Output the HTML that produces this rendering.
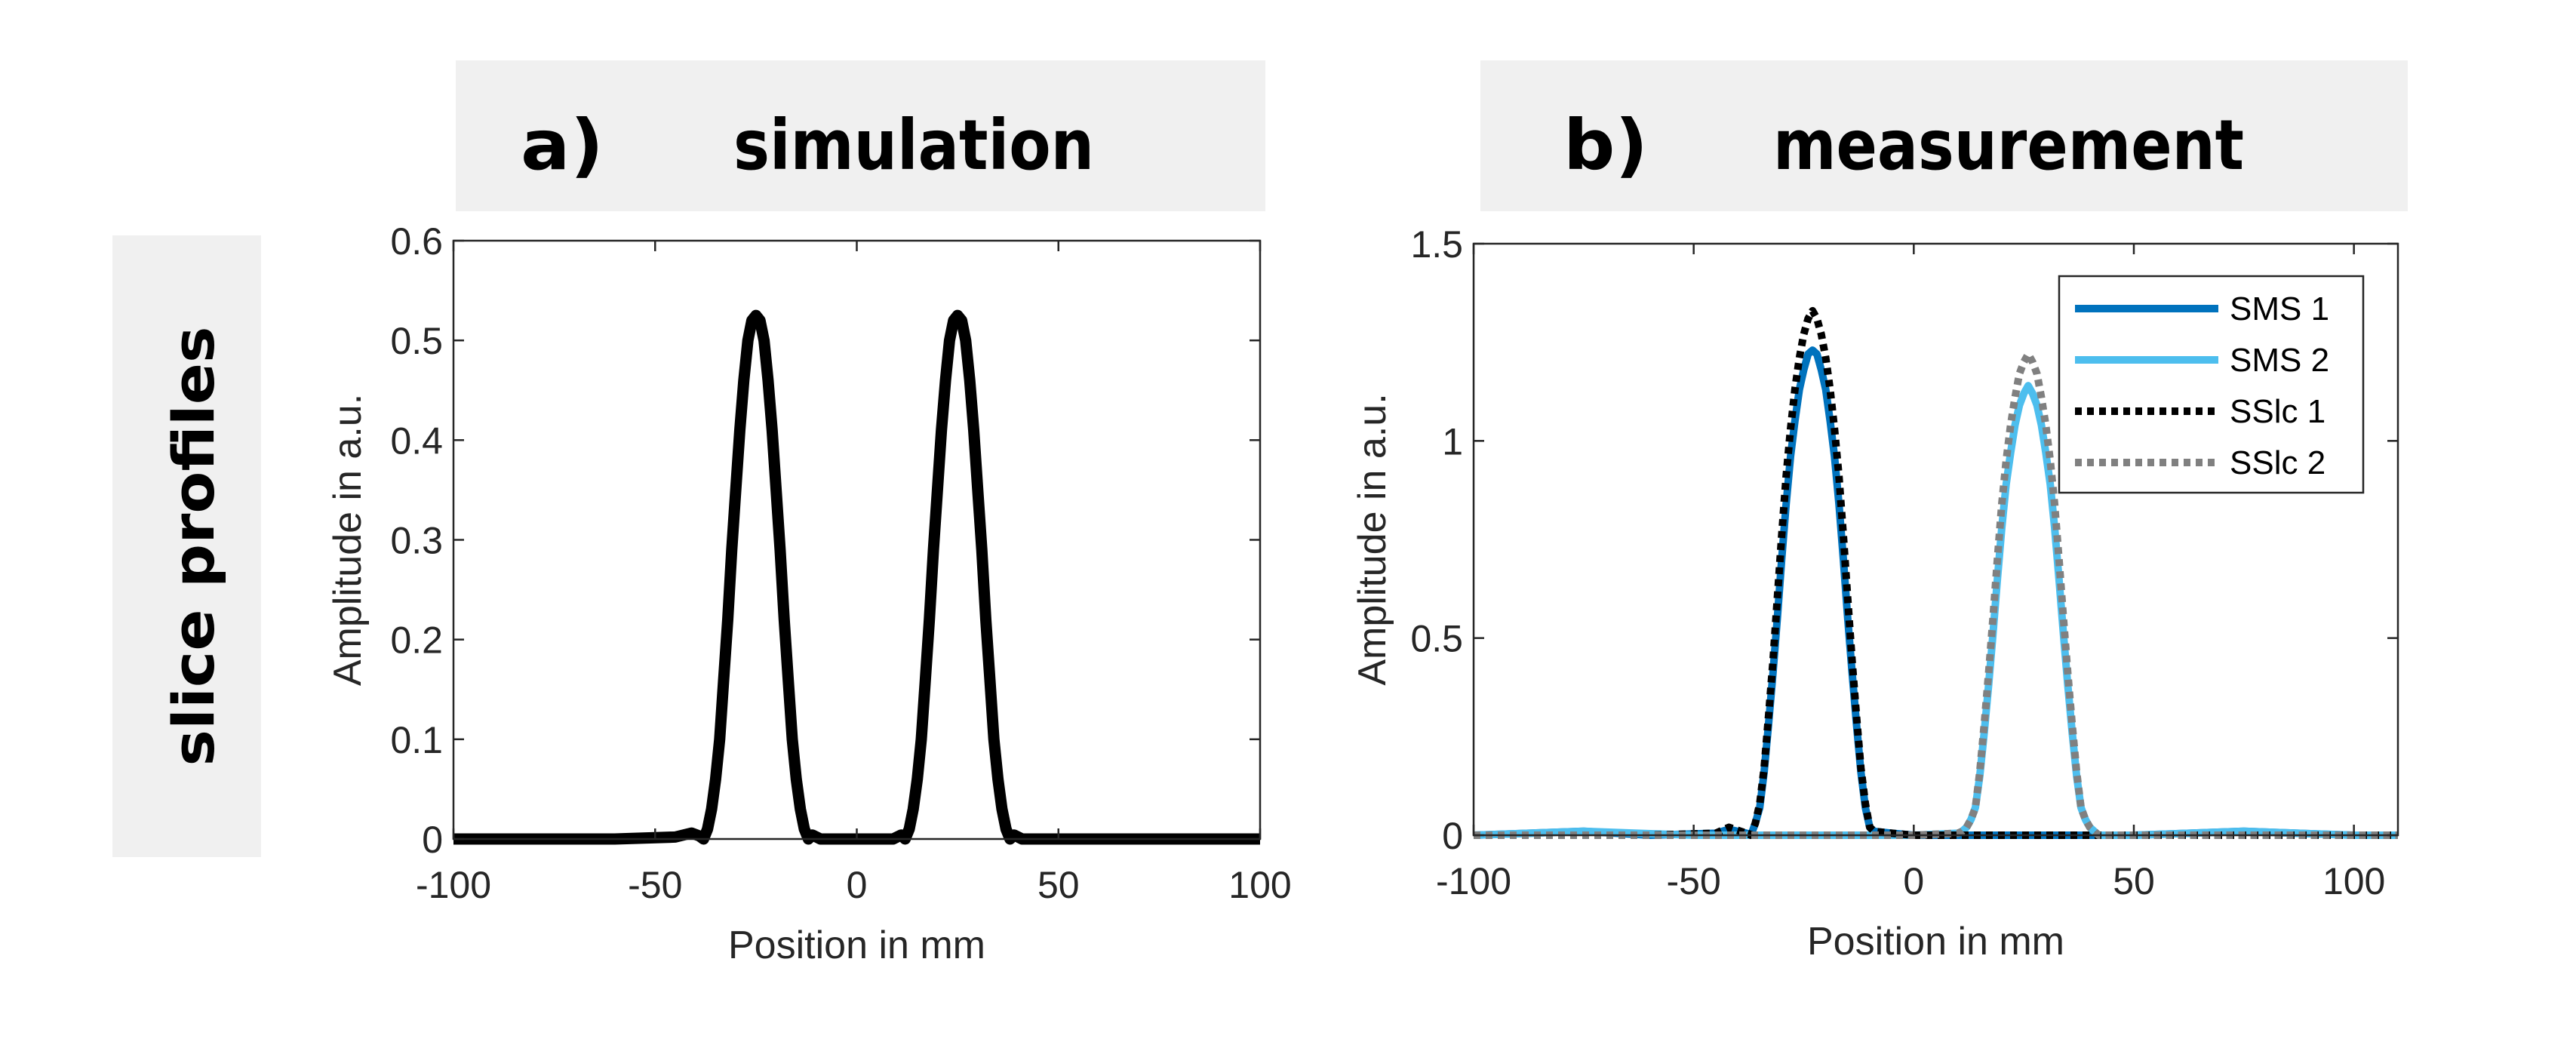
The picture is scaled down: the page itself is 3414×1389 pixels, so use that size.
<!DOCTYPE html>
<html><head><meta charset="utf-8"><style>
html,body{margin:0;padding:0;background:#fff;}
svg{display:block;font-family:"Liberation Sans",Arial,sans-serif;}
.ttl{font-family:"DejaVu Sans","Liberation Sans",sans-serif;font-weight:bold;}
</style></head><body>
<svg id="fig" width="3414" height="1389" viewBox="0 0 3414 1389" xmlns="http://www.w3.org/2000/svg">
<rect x="604" y="80" width="1073" height="200" fill="#f0f0f0"/>
<rect x="1962" y="80" width="1229" height="200" fill="#f0f0f0"/>
<rect x="149" y="312" width="197" height="824" fill="#f0f0f0"/>
<text class="ttl" x="690" y="224" font-size="92" textLength="110" lengthAdjust="spacingAndGlyphs">a)</text>
<text class="ttl" x="972" y="224" font-size="92" textLength="478" lengthAdjust="spacingAndGlyphs">simulation</text>
<text class="ttl" x="2072" y="224" font-size="92" textLength="112" lengthAdjust="spacingAndGlyphs">b)</text>
<text class="ttl" x="2350" y="224" font-size="92" textLength="624" lengthAdjust="spacingAndGlyphs">measurement</text>
<text class="ttl" transform="translate(283,724) rotate(-90)" font-size="76" text-anchor="middle" textLength="583" lengthAdjust="spacingAndGlyphs">slice profiles</text>
<g id="plots"></g>
</svg>
<script>
const simX = [-100,-60,-45,-41,-39,-38,-37,-36,-35,-34,-33,-32,-31,-30,-29,-28,-27,-26,-25,-24,-23,-22,-21,-20,-19,-18,-17,-16,-15,-14,-13,-12,-11,-9,-5,0,5,9,11,12,13,14,15,16,17,18,19,20,21,22,23,24,25,26,27,28,29,30,31,32,33,34,35,36,37,38,39,41,45,60,100];
const simY = [0,0,0.002,0.006,0.003,0.0,0.01,0.03,0.06,0.10,0.16,0.22,0.29,0.35,0.41,0.46,0.50,0.52,0.525,0.52,0.50,0.46,0.41,0.35,0.29,0.22,0.16,0.10,0.06,0.03,0.01,0.0,0.004,0.0,0.0,0.0,0.0,0.0,0.004,0.0,0.01,0.03,0.06,0.10,0.16,0.22,0.29,0.35,0.41,0.46,0.50,0.52,0.525,0.52,0.50,0.46,0.41,0.35,0.29,0.22,0.16,0.10,0.06,0.03,0.01,0.0,0.004,0.0,0.0,0,0];
const simXTicks = [-100,-50,0,50,100];
const simYTicks = [0,0.1,0.2,0.3,0.4,0.5,0.6];

const sms1X = [-100,-75,-60,-45,-42,-38,-37,-36,-35,-34,-33,-32,-31,-30,-29,-28,-27,-26,-25,-24,-23,-22,-21,-20,-19,-18,-17,-16,-15,-14,-13,-12,-11,-10,-9,-5,0,10,20,30,40,50,75,100,110];
const sms1Y = [0,0.01,0,0.005,0.015,0.005,0.0,0.03,0.07,0.16,0.28,0.41,0.55,0.70,0.84,0.96,1.05,1.13,1.18,1.22,1.23,1.22,1.18,1.13,1.05,0.96,0.84,0.70,0.55,0.41,0.28,0.16,0.07,0.02,0.01,0.005,0,0,0,0,0,0,0.01,0,0];
const sslc1X = [-100,-75,-60,-45,-42,-38,-37,-36,-35,-34,-33,-32,-31,-30,-29,-28,-27,-26,-25,-24,-23,-22,-21,-20,-19,-18,-17,-16,-15,-14,-13,-12,-11,-10,-9,-5,0,10,20,30,40,50,75,100,110];
const sslc1Y = [0,0,0,0.005,0.02,0.005,0.0,0.03,0.08,0.17,0.30,0.44,0.60,0.76,0.91,1.03,1.13,1.21,1.27,1.31,1.33,1.31,1.27,1.21,1.13,1.03,0.91,0.76,0.60,0.44,0.30,0.17,0.08,0.02,0.01,0.005,0,0,0,0,0,0,0,0,0];
const sms2X = [-100,-75,-50,-20,0,10,11,12,13,14,15,16,17,18,19,20,21,22,23,24,25,26,27,28,29,30,31,32,33,34,35,36,37,38,39,40,42,50,75,100,110];
const sms2Y = [0,0.01,0,0,0,0.005,0.01,0.02,0.04,0.07,0.15,0.26,0.38,0.51,0.65,0.78,0.89,0.97,1.04,1.09,1.12,1.14,1.12,1.09,1.04,0.97,0.89,0.78,0.65,0.51,0.38,0.26,0.15,0.07,0.04,0.02,0.0,0,0.01,0,0];
const sslc2X = [-100,-75,-50,-20,0,10,11,12,13,14,15,16,17,18,19,20,21,22,23,24,25,26,27,28,29,30,31,32,33,34,35,36,37,38,39,40,42,50,75,100,110];
const sslc2Y = [0,0,0,0,0,0.005,0.01,0.02,0.04,0.07,0.16,0.28,0.41,0.55,0.70,0.84,0.95,1.04,1.11,1.17,1.20,1.22,1.20,1.17,1.11,1.04,0.95,0.84,0.70,0.55,0.41,0.28,0.16,0.07,0.04,0.02,0.0,0,0,0,0];
const measXTicks = [-100,-50,0,50,100];
const measYTicks = [0,0.5,1,1.5];
const measYTickLabels = ['0','0.5','1','1.5'];
const legendLabels = ['SMS 1','SMS 2','SSlc 1','SSlc 2'];

const NS = 'http://www.w3.org/2000/svg';
const root = document.getElementById('plots');
function mk(tag, attrs, parent){ const e=document.createElementNS(NS,tag); for(const k in attrs) e.setAttribute(k,attrs[k]); (parent||root).appendChild(e); return e; }
function axisFn(d0,d1,p0,p1){ return v => p0 + (v-d0)/(d1-d0)*(p1-p0); }

function drawAxes(g, L,R,T,B, xs, ys, xt, yt, ytl, ylabelX){
  const frame = mk('rect',{x:L,y:T,width:R-L,height:B-T,fill:'none',stroke:'#262626','stroke-width':2.5},g);
  
  
  xt.forEach(v=>{
    const x=xs(v);
    mk('line',{x1:x,x2:x,y1:B,y2:B-14,stroke:'#262626','stroke-width':2.5},g);
    mk('line',{x1:x,x2:x,y1:T,y2:T+14,stroke:'#262626','stroke-width':2.5},g);
    const t=mk('text',{x:x,y:B+78,'font-size':50,'text-anchor':'middle',fill:'#262626'},g);
    t.textContent=String(v);
    
    
  });
  yt.forEach((v,i)=>{
    const y=ys(v);
    mk('line',{x1:L,x2:L+14,y1:y,y2:y,stroke:'#262626','stroke-width':2.5},g);
    mk('line',{x1:R,x2:R-14,y1:y,y2:y,stroke:'#262626','stroke-width':2.5},g);
    const t=mk('text',{x:L-14,y:y+18,'font-size':50,'text-anchor':'end',fill:'#262626'},g);
    t.textContent=ytl?ytl[i]:String(v);
    
    
  });
  const xl=mk('text',{x:(L+R)/2,y:B+158,'font-size':52,'text-anchor':'middle',fill:'#262626'},g);
  xl.textContent='Position in mm';
  
  
  const yl=mk('text',{transform:`translate(${ylabelX},${(T+B)/2}) rotate(-90)`,'font-size':52,'text-anchor':'middle',fill:'#262626'},g);
  yl.textContent='Amplitude in a.u.';
  
  
}
function line(g, X, Y, xs, ys, color, w, dash, name){
  const d = X.map((x,i)=>(i?'L':'M')+xs(x).toFixed(1)+','+ys(Y[i]).toFixed(1)).join('');
  const p=mk('path',{d:d,fill:'none',stroke:color,'stroke-width':w,'stroke-linejoin':'round'},g);
  if(dash) p.setAttribute('stroke-dasharray',dash);
  
  
}

const ga = mk('g',{});


const axL=601, axR=1670, axT=319, axB=1112;
const xa = axisFn(-100,100,axL,axR), ya = axisFn(0,0.6,axB,axT);
line(ga, simX, simY, xa, ya, '#000', 15, null, 'simulation-profile');
drawAxes(ga, axL,axR,axT,axB, xa, ya, simXTicks, simYTicks, null, 478);

const gb = mk('g',{});


const bL=1953, bR=3178, bT=323, bB=1107;
const xb = axisFn(-100,110,bL,bR), yb = axisFn(0,1.5,bB,bT);
const colors=['#0072bd','#4dbeee','#000000','#808080'];
line(gb, sms1X, sms1Y, xb, yb, colors[0], 10, null, 'sms1-line');
line(gb, sms2X, sms2Y, xb, yb, colors[1], 10, null, 'sms2-line');
line(gb, sslc1X, sslc1Y, xb, yb, colors[2], 10, '9,7', 'sslc1-line');
line(gb, sslc2X, sslc2Y, xb, yb, colors[3], 10, '9,7', 'sslc2-line');
drawAxes(gb, bL,bR,bT,bB, xb, yb, measXTicks, measYTicks, measYTickLabels, 1836);

const lg = mk('g',{});


mk('rect',{x:2729,y:366,width:403,height:287,fill:'#fff',stroke:'#262626','stroke-width':2.5},lg);
legendLabels.forEach((lab,i)=>{
  const y=409+i*68;
  const ln=mk('line',{x1:2750,x2:2940,y1:y,y2:y,stroke:colors[i],'stroke-width':10},lg);
  if(i>=2) ln.setAttribute('stroke-dasharray','9,7');
  
  
  const t=mk('text',{x:2955,y:y+15,'font-size':44,fill:'#000'},lg);
  t.textContent=lab;
  
  
});
</script>
</body></html>
